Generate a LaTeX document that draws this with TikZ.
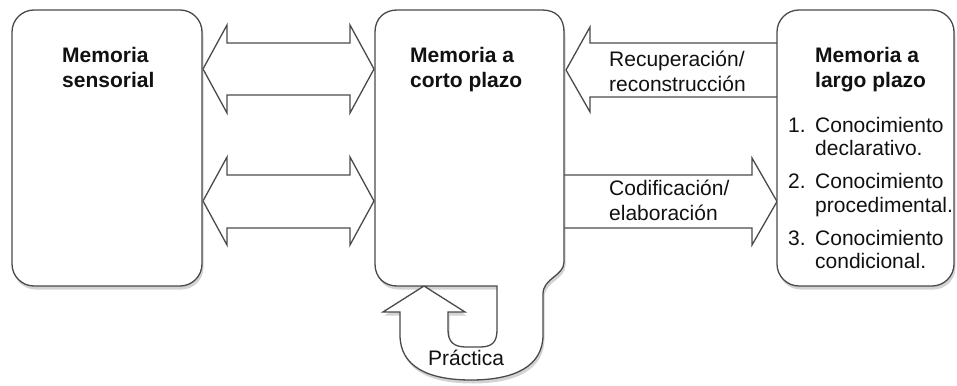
\documentclass[tikz,border=0pt]{standalone}
\usepackage{fontspec}
\setmainfont{Liberation Sans}
\usetikzlibrary{shadows}
\definecolor{ln}{HTML}{4A4A4A}
\definecolor{tx}{HTML}{111111}
\begin{document}
\begin{tikzpicture}[x=1pt,y=-1pt,
  box/.style={draw=ln, line width=1.3pt, fill=white,
    drop shadow={shadow xshift=1.5pt, shadow yshift=-3.5pt, opacity=0.35, fill=black!50}},
  barrow/.style={draw=ln, line width=1.3pt, fill=white, line join=miter},
  txt/.style={anchor=base west, inner sep=0pt, text=tx, font=\fontsize{21}{25}\selectfont},
  ttl/.style={txt, font=\fontsize{21}{25}\selectfont\bfseries}]
\useasboundingbox (0,0) rectangle (957,385);

% double arrows between sensorial and short-term memory
\draw[barrow] (203,69) -- (227,25) -- (227,43) -- (350,43) -- (350,25) -- (374,69)
  -- (350,113) -- (350,95) -- (227,95) -- (227,113) -- cycle;
\draw[barrow] (203,201) -- (227,157) -- (227,175) -- (350,175) -- (350,157) -- (374,201)
  -- (350,245) -- (350,228) -- (227,228) -- (227,245) -- cycle;

% Recuperacion arrow (to the left)
\draw[barrow] (566,70) -- (590,27) -- (590,43) -- (782,43) -- (782,97) -- (590,97) -- (590,112) -- cycle;
% Codificacion arrow (to the right)
\draw[barrow] (560,175) -- (752,175) -- (752,158) -- (777,201.5) -- (752,245) -- (752,228) -- (560,228) -- cycle;

% boxes
\draw[box, rounded corners=22pt] (12,10) rectangle (202,286);
\draw[box, rounded corners=22pt] (777,10) rectangle (954,286);

% short-term memory box with the Practica loop arrow
\draw[box] (497,286) -- (397,286) .. controls (385,286) and (375,278) .. (375,264)
  -- (375,32) .. controls (375,18) and (385,10) .. (397,10)
  -- (542,10) .. controls (556,10) and (564,18) .. (564,32)
  -- (564,262) .. controls (564,276) and (543,278) .. (543,294)
  -- (543,335) .. controls (543,366) and (515,380) .. (471,380)
  .. controls (427,380) and (400,366) .. (400,335)
  -- (400,312) -- (383,312) -- (424,286) -- (465,312) -- (448,312)
  -- (448,330) .. controls (448,342) and (454,347) .. (466,347)
  -- (480,347) .. controls (492,347) and (497,342) .. (497,330) -- cycle;

% texts
\node[ttl] (s1) at (62,63) {Memoria};
\node[ttl] (s2) at (62,88) {sensorial};
\node[ttl] (c1) at (410,63) {Memoria a};
\node[ttl] (c2) at (410,88) {corto plazo};
\node[ttl] (l1) at (815,63) {Memoria a};
\node[ttl] (l2) at (815,88) {largo plazo};
\node[txt] (r1) at (609,67) {Recuperación/};
\node[txt] (r2) at (609,92) {reconstrucción};
\node[txt] (e1) at (609,195) {Codificación/};
\node[txt] (e2) at (609,220) {elaboración};
\node[txt] (n1) at (788,132) {1.};
\node[txt] (k1) at (815,132) {Conocimiento};
\node[txt] (k1b) at (815,155) {declarativo.};
\node[txt] (n2) at (788,188) {2.};
\node[txt] (k2) at (815,188) {Conocimiento};
\node[txt] (k2b) at (815,212) {procedimental.};
\node[txt] (n3) at (788,245) {3.};
\node[txt] (k3) at (815,245) {Conocimiento};
\node[txt] (k3b) at (815,268) {condicional.};
\node[txt] (pr) at (428,365) {Práctica};
\end{tikzpicture}
\end{document}
